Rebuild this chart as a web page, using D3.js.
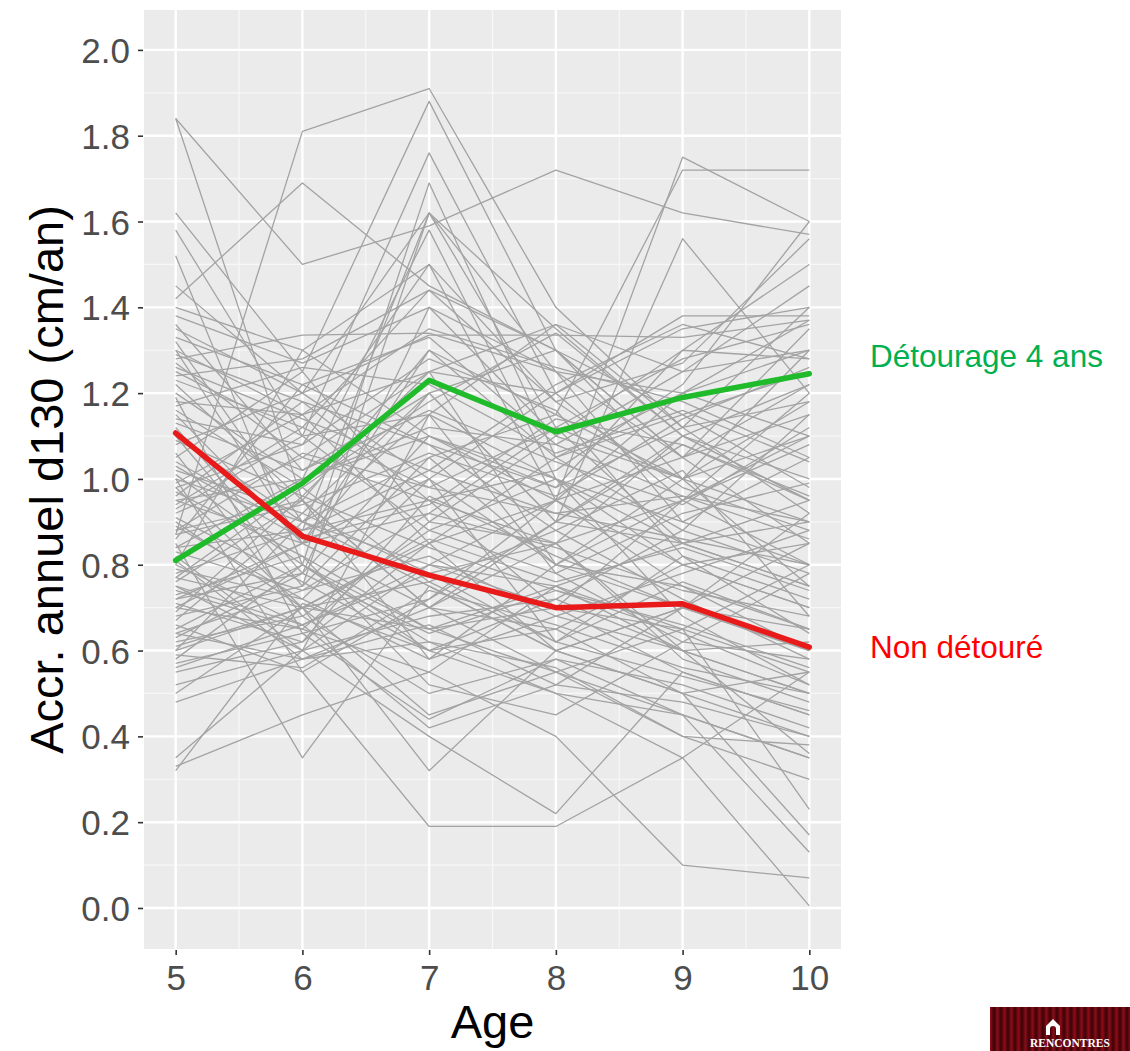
<!DOCTYPE html>
<html>
<head>
<meta charset="utf-8">
<script src="https://cdn.jsdelivr.net/npm/d3@7"></script>
<style>
  html, body { margin: 0; padding: 0; background: #ffffff; }
  svg { display: block; }
</style>
</head>
<body>
<svg id="chart" width="1130" height="1051"></svg>
<script>
// ---------------- DATA ----------------
const ages = [5, 6, 7, 8, 9, 10];
const yTicks = [0.0, 0.2, 0.4, 0.6, 0.8, 1.0, 1.2, 1.4, 1.6, 1.8, 2.0];
const xTicks = [5, 6, 7, 8, 9, 10];

const greenSeries = [0.81, 0.99, 1.23, 1.11, 1.19, 1.245];
const redSeries   = [1.107, 0.867, 0.776, 0.70, 0.709, 0.608];

const greenLabel = "Détourage 4 ans";
const redLabel = "Non détouré";
const xTitle = "Age";
const yTitle = "Accr. annuel d130 (cm/an)";
const logoText = "RENCONTRES";

// individual trees (values at ages 5..10)
const treeLines = [
  [0.87, 1.81, 1.91, 1.40, 1.12, 0.92],
  [1.84, 1.50, 1.59, 1.72, 1.62, 1.57],
  [1.42, 1.69, 1.45, 1.30, 1.05, 0.85],
  [1.84, 0.95, 0.70, 0.85, 0.60, 0.50],
  [1.62, 1.25, 1.88, 1.30, 1.00, 1.10],
  [1.58, 1.10, 1.76, 1.20, 1.35, 1.40],
  [1.52, 0.80, 1.69, 1.05, 1.15, 1.25],
  [1.45, 1.20, 1.62, 1.35, 1.10, 0.95],
  [1.10, 0.75, 1.62, 1.25, 0.90, 0.80],
  [0.95, 1.00, 1.58, 1.00, 0.80, 0.70],
  [0.80, 1.30, 1.50, 0.95, 1.75, 1.60],
  [1.00, 0.90, 1.05, 1.15, 1.72, 1.72],
  [0.70, 0.85, 1.20, 0.90, 1.56, 1.20],
  [0.33, 0.45, 0.55, 0.75, 0.85, 0.90],
  [0.35, 0.60, 0.80, 0.70, 0.55, 0.45],
  [0.32, 0.71, 0.60, 0.65, 0.50, 0.55],
  [0.85, 0.35, 0.75, 0.60, 0.70, 0.65],
  [1.00, 0.55, 0.19, 0.19, 0.35, 0.55],
  [0.90, 0.70, 0.32, 0.60, 0.50, 0.40],
  [0.75, 0.60, 0.40, 0.22, 0.55, 0.45],
  [0.70, 0.65, 0.55, 0.40, 0.10, 0.07],
  [0.65, 0.80, 0.60, 0.50, 0.35, 0.005],
  [0.95, 0.85, 0.70, 0.55, 0.45, 0.13],
  [1.10, 0.90, 0.75, 0.60, 0.50, 0.17],
  [0.60, 0.70, 0.65, 0.55, 0.65, 0.23],
  [1.35, 1.20, 1.335, 1.335, 1.33, 1.37],
  [1.28, 1.335, 1.34, 1.25, 1.20, 1.10],
  [1.25, 1.10, 1.15, 1.36, 1.25, 1.30],
  [1.38, 1.27, 1.40, 1.10, 1.30, 1.28],
  [1.30, 1.15, 1.25, 1.20, 1.38, 1.38],
  [1.20, 1.00, 1.10, 0.95, 1.05, 1.15],
  [1.15, 0.85, 1.00, 1.20, 0.95, 0.80],
  [1.05, 1.25, 0.90, 0.85, 1.10, 1.00],
  [0.98, 0.70, 0.85, 1.05, 1.20, 1.30],
  [0.92, 1.05, 1.25, 0.80, 0.75, 0.60],
  [0.88, 0.95, 0.70, 0.90, 0.85, 0.95],
  [0.82, 0.60, 1.15, 1.00, 0.90, 1.05],
  [0.78, 0.88, 0.95, 0.70, 0.65, 0.80],
  [0.74, 0.65, 0.90, 1.10, 1.00, 0.75],
  [0.68, 0.75, 1.05, 0.80, 0.95, 1.20],
  [0.64, 0.58, 0.70, 0.65, 0.80, 0.70],
  [0.58, 0.80, 0.65, 0.75, 0.60, 0.50],
  [0.55, 0.62, 0.85, 0.60, 0.70, 0.85],
  [0.50, 0.70, 0.45, 0.55, 0.40, 0.38],
  [0.48, 0.58, 0.62, 0.50, 0.45, 0.35],
  [1.32, 0.90, 0.80, 0.75, 0.65, 0.55],
  [1.27, 1.05, 0.95, 0.85, 0.95, 1.10],
  [1.22, 0.95, 1.30, 1.15, 1.00, 0.90],
  [1.18, 1.15, 0.85, 0.95, 0.75, 0.65],
  [1.12, 0.78, 1.40, 1.25, 1.05, 1.35],
  [1.08, 1.20, 1.00, 0.80, 0.70, 0.60],
  [1.02, 0.92, 1.20, 1.30, 1.15, 0.98],
  [0.97, 0.82, 0.65, 0.70, 0.95, 1.08],
  [0.93, 1.10, 0.88, 1.00, 0.68, 0.52],
  [0.89, 0.72, 1.00, 0.62, 0.82, 0.72],
  [0.84, 1.00, 1.12, 1.08, 1.25, 1.45],
  [0.80, 0.66, 0.78, 0.85, 0.58, 0.48],
  [0.76, 0.95, 0.58, 0.68, 0.78, 0.88],
  [0.72, 0.85, 1.30, 1.05, 0.88, 0.78],
  [0.66, 0.55, 0.72, 0.90, 1.08, 0.95],
  [0.62, 0.68, 0.50, 0.58, 0.52, 0.42],
  [0.60, 0.90, 1.15, 0.78, 0.62, 0.58],
  [0.56, 0.66, 0.80, 0.95, 1.20, 1.37],
  [0.52, 0.60, 0.68, 0.72, 0.60, 0.62],
  [1.40, 1.30, 1.10, 1.00, 0.85, 0.75],
  [1.36, 1.02, 1.20, 0.90, 1.10, 1.22],
  [1.30, 0.85, 0.92, 1.12, 1.28, 1.36],
  [1.24, 1.28, 1.44, 1.18, 0.98, 0.88],
  [1.16, 0.98, 0.76, 0.88, 0.72, 0.58],
  [1.06, 0.68, 0.88, 0.78, 0.92, 0.99],
  [0.99, 1.15, 1.35, 1.26, 1.18, 1.05],
  [0.91, 0.76, 0.60, 0.72, 0.88, 1.15],
  [0.86, 1.22, 1.08, 0.88, 1.02, 0.68],
  [0.81, 0.58, 0.66, 0.52, 0.48, 0.40],
  [0.77, 0.98, 1.18, 1.34, 1.10, 0.95],
  [0.71, 0.62, 0.96, 0.82, 0.70, 0.92],
  [0.67, 0.92, 0.78, 0.62, 0.76, 0.65],
  [0.63, 0.78, 1.10, 0.98, 1.30, 1.50],
  [0.59, 0.56, 0.74, 0.66, 0.56, 0.50],
  [1.14, 1.08, 1.50, 1.18, 1.27, 1.56],
  [1.04, 0.88, 1.62, 1.12, 0.85, 0.75],
  [0.94, 1.12, 1.44, 1.30, 1.05, 1.22],
  [1.26, 1.14, 1.02, 1.22, 1.36, 1.28],
  [0.83, 0.74, 0.82, 0.68, 0.60, 0.36],
  [0.73, 0.82, 0.52, 0.45, 0.62, 0.78],
  [1.19, 0.64, 0.72, 0.95, 0.80, 0.85],
  [0.96, 1.18, 0.95, 1.02, 1.22, 1.60],
  [0.69, 0.96, 1.25, 1.36, 1.12, 1.40],
  [0.79, 0.72, 0.58, 0.80, 1.00, 1.18],
  [1.09, 0.96, 0.84, 0.74, 0.64, 0.52],
  [0.57, 0.64, 0.44, 0.58, 0.45, 0.35],
  [1.33, 1.22, 1.33, 1.08, 0.96, 0.90],
  [0.88, 1.06, 0.98, 1.12, 1.00, 1.30],
  [0.75, 0.66, 0.42, 0.52, 0.70, 0.60],
  [1.01, 0.80, 0.62, 0.56, 0.40, 0.30],
  [1.23, 1.12, 0.98, 0.92, 0.86, 0.80],
  [1.13, 1.02, 1.16, 1.04, 0.94, 1.12],
  [1.03, 0.86, 0.94, 1.14, 1.08, 0.96],
  [0.87, 0.94, 1.06, 0.96, 1.14, 1.26],
  [0.77, 0.70, 0.86, 0.76, 0.84, 0.74],
  [0.72, 0.78, 0.64, 0.74, 0.66, 0.56],
  [1.17, 1.26, 1.22, 1.06, 1.16, 1.04],
  [0.64, 0.74, 0.92, 0.84, 0.74, 0.68],
  [0.98, 1.08, 1.28, 1.16, 0.82, 0.64],
  [1.29, 1.18, 1.08, 0.98, 1.12, 1.18],
  [0.84, 0.88, 1.02, 0.92, 0.96, 0.86],
  [0.61, 0.70, 0.76, 0.62, 0.54, 0.46]
];

// ---------------- LAYOUT ----------------
const svg = d3.select("#chart");
const panel = { left: 144, right: 841, top: 10, bottom: 949 };

const x = d3.scaleLinear().domain([4.75, 10.25]).range([panel.left, panel.right]);
const y = d3.scaleLinear().domain([-0.0956, 2.093]).range([panel.bottom, panel.top]);

// panel background
svg.append("rect")
  .attr("x", panel.left).attr("y", panel.top)
  .attr("width", panel.right - panel.left)
  .attr("height", panel.bottom - panel.top)
  .attr("fill", "#ebebeb");

// minor gridlines
const xMinor = d3.range(4.5, 10.6, 1).filter(v => v > 4.75 && v < 10.25);
const yMinor = d3.range(-0.1, 2.1, 0.2).map(v => +v.toFixed(2)).filter(v => v > -0.0956 && v < 2.093);
const grid = svg.append("g");
grid.selectAll(".xmin").data(xMinor).enter().append("line")
  .attr("x1", d => x(d)).attr("x2", d => x(d))
  .attr("y1", panel.top).attr("y2", panel.bottom)
  .attr("stroke", "#f7f7f7").attr("stroke-width", 1.2);
grid.selectAll(".ymin").data(yMinor).enter().append("line")
  .attr("y1", d => y(d)).attr("y2", d => y(d))
  .attr("x1", panel.left).attr("x2", panel.right)
  .attr("stroke", "#f7f7f7").attr("stroke-width", 1.2);
// major gridlines
grid.selectAll(".xmaj").data(xTicks).enter().append("line")
  .attr("x1", d => x(d)).attr("x2", d => x(d))
  .attr("y1", panel.top).attr("y2", panel.bottom)
  .attr("stroke", "#ffffff").attr("stroke-width", 2.4);
grid.selectAll(".ymaj").data(yTicks).enter().append("line")
  .attr("y1", d => y(d)).attr("y2", d => y(d))
  .attr("x1", panel.left).attr("x2", panel.right)
  .attr("stroke", "#ffffff").attr("stroke-width", 2.4);

// lines
const line = d3.line().x((d, i) => x(ages[i])).y(d => y(d));
const plot = svg.append("g");
plot.selectAll(".tree").data(treeLines).enter().append("path")
  .attr("d", line)
  .attr("fill", "none")
  .attr("stroke", "#a3a3a3")
  .attr("stroke-width", 1.3)
  .attr("stroke-linejoin", "round");

plot.append("path").datum(greenSeries)
  .attr("d", line).attr("fill", "none")
  .attr("stroke", "#1fbb2a").attr("stroke-width", 5.5)
  .attr("stroke-linejoin", "round").attr("stroke-linecap", "round");
plot.append("path").datum(redSeries)
  .attr("d", line).attr("fill", "none")
  .attr("stroke", "#e81a1a").attr("stroke-width", 5.5)
  .attr("stroke-linejoin", "round").attr("stroke-linecap", "round");

// axes
const font = "'Liberation Sans', Arial, sans-serif";
const yAxis = d3.axisLeft(y).tickValues(yTicks).tickFormat(d3.format(".1f")).tickSize(5).tickPadding(8);
const gy = svg.append("g").attr("transform", `translate(${panel.left - 1},0)`).call(yAxis);
const xAxis = d3.axisBottom(x).tickValues(xTicks).tickFormat(d3.format("d")).tickSize(5).tickPadding(8);
const gx = svg.append("g").attr("transform", `translate(0,${panel.bottom + 1})`).call(xAxis);
[gx, gy].forEach(g => {
  g.select(".domain").remove();
  g.selectAll(".tick line").attr("stroke", "#333333").attr("stroke-width", 1.6);
  g.selectAll(".tick text").attr("fill", "#4d4d4d")
    .style("font-family", font).style("font-size", "35px");
});
gy.selectAll(".tick text").attr("dy", "0.36em");
gx.selectAll(".tick text").attr("dy", "0.76em");

// axis titles
svg.append("text")
  .attr("x", (panel.left + panel.right) / 2).attr("y", 1038)
  .attr("text-anchor", "middle")
  .style("font-family", font).style("font-size", "47px").attr("fill", "#000")
  .text(xTitle);
svg.append("text")
  .attr("transform", `translate(63,${(panel.top + panel.bottom) / 2}) rotate(-90)`)
  .attr("text-anchor", "middle")
  .style("font-family", font).style("font-size", "47px").attr("fill", "#000")
  .text(yTitle);

// series labels
svg.append("text").attr("x", 870).attr("y", 367)
  .style("font-family", font).style("font-size", "31.5px").attr("fill", "#00b050")
  .text(greenLabel);
svg.append("text").attr("x", 870).attr("y", 658)
  .style("font-family", font).style("font-size", "31.5px").attr("fill", "#ff0000")
  .text(redLabel);

// logo (bottom right)
const defs = svg.append("defs");
const grad = defs.append("linearGradient").attr("id", "logoGrad")
  .attr("x1", 0).attr("x2", 7).attr("y1", 0).attr("y2", 0)
  .attr("spreadMethod", "repeat").attr("gradientUnits", "userSpaceOnUse");
grad.append("stop").attr("offset", "0").attr("stop-color", "#3a0208");
grad.append("stop").attr("offset", "0.5").attr("stop-color", "#8a0c16");
grad.append("stop").attr("offset", "1").attr("stop-color", "#3a0208");
const logo = svg.append("g");
logo.append("rect").attr("x", 990).attr("y", 1007).attr("width", 140).attr("height", 44)
  .attr("fill", "url(#logoGrad)");
logo.append("path")
  .attr("d", "M1046,1026 L1053,1019 L1060,1026 L1060,1035 L1046,1035 Z M1050,1035 L1050,1029 A3,3 0 0 1 1056,1029 L1056,1035 Z")
  .attr("fill", "#ffffff").attr("fill-rule", "evenodd");
logo.append("text").attr("x", 1030).attr("y", 1047)
  .style("font-family", "'Liberation Serif', serif").style("font-weight", "bold")
  .style("font-size", "11.5px").attr("fill", "#ffffff")
  .text(logoText);
</script>
</body>
</html>
